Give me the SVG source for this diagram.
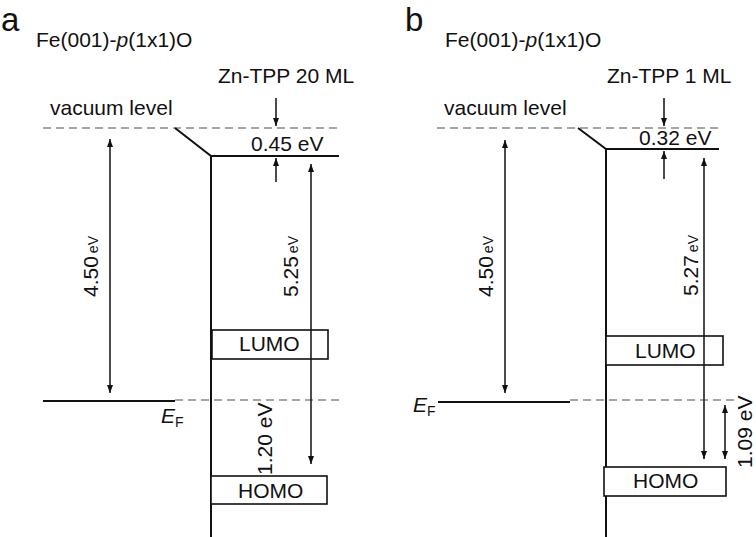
<svg xmlns="http://www.w3.org/2000/svg" width="756" height="537" viewBox="0 0 756 537">
<style>
text{font-family:"Liberation Sans",Arial,sans-serif;font-size:21px;fill:#111}
.big{font-size:33px}
.sm{font-size:14px}
.solid{stroke:#111;stroke-width:2;fill:none}
.dash{stroke:#888;stroke-width:1.5;stroke-dasharray:8 5;fill:none}
.arr{stroke:#111;stroke-width:1.5;fill:none;marker-end:url(#ah)}
.darr{stroke:#111;stroke-width:1.5;fill:none;marker-end:url(#ah);marker-start:url(#ah)}
.box{stroke:#111;stroke-width:1.6;fill:#fff}
</style>
<defs>
<marker id="ah" viewBox="0 0 8 6" refX="8" refY="3" markerWidth="8" markerHeight="6" markerUnits="userSpaceOnUse" orient="auto-start-reverse">
<path d="M0,0 L8,3 L0,6 z" fill="#111"/>
</marker>
</defs>
<rect width="756" height="537" fill="#fff"/>

<!-- Panel a -->
<g id="panel-a">
<text class="big" x="1" y="31">a</text>
<text x="36" y="47">Fe(001)-<tspan font-style="italic">p</tspan>(1x1)O</text>
<text x="218" y="83">Zn-TPP 20 ML</text>
<text x="50" y="115">vacuum level</text>
<g id="a-levels">
<line class="dash" x1="43" y1="128" x2="340" y2="128"/>
<polyline class="solid" points="175,128 211,156 339,156"/>
<line class="solid" x1="211" y1="156" x2="211" y2="537"/>
<line class="solid" x1="43" y1="401" x2="175" y2="401"/>
<line class="dash" x1="175" y1="400" x2="340" y2="400"/>
</g>
<text x="251" y="151">0.45 eV</text>
<text x="161" y="423"><tspan font-style="italic">E</tspan><tspan class="sm" dy="4">F</tspan></text>
<text transform="translate(98,297) rotate(-90)">4.50<tspan class="sm" dx="3">eV</tspan></text>
<text transform="translate(298,297) rotate(-90)">5.25<tspan class="sm" dx="3">eV</tspan></text>
</g>
<g id="a-lumo">
<rect class="box" x="212" y="330" width="116" height="29"/>
<text x="239" y="351">LUMO</text>
</g>
<g id="a-homo">
<rect class="box" x="211" y="476" width="116" height="28"/>
<text x="238" y="498">HOMO</text>
</g>
<text transform="translate(272,475) rotate(-90)">1.20 eV</text>

<!-- Panel b -->
<g id="panel-b">
<text class="big" x="405" y="31">b</text>
<text x="445" y="47">Fe(001)-<tspan font-style="italic">p</tspan>(1x1)O</text>
<text x="607" y="83">Zn-TPP 1 ML</text>
<text x="444" y="115">vacuum level</text>
<g id="b-levels">
<line class="dash" x1="437" y1="128" x2="720" y2="128"/>
<polyline class="solid" points="578,128 606,149 719,149"/>
<line class="solid" x1="606" y1="149" x2="606" y2="537"/>
<line class="solid" x1="438" y1="402" x2="570" y2="402"/>
<line class="dash" x1="570" y1="400" x2="738" y2="400"/>
</g>
<text x="639" y="145">0.32 eV</text>
<text x="413" y="412"><tspan font-style="italic">E</tspan><tspan class="sm" dy="4">F</tspan></text>
<text transform="translate(493,297) rotate(-90)">4.50<tspan class="sm" dx="3">eV</tspan></text>
<text transform="translate(698,296) rotate(-90)">5.27<tspan class="sm" dx="3">eV</tspan></text>
</g>
<g id="b-lumo">
<rect class="box" x="606" y="336" width="117" height="29"/>
<text x="635" y="358">LUMO</text>
</g>
<g id="b-homo">
<rect class="box" x="604" y="467" width="122" height="29"/>
<text x="633" y="488">HOMO</text>
</g>
<text transform="translate(752,468) rotate(-90)">1.09 eV</text>

<g id="connectors">
<line class="arr" x1="276" y1="98" x2="276" y2="126"/>
<line class="arr" x1="276" y1="182" x2="276" y2="158"/>
<line class="darr" x1="110" y1="139" x2="110" y2="393"/>
<line class="darr" x1="311" y1="164" x2="311" y2="464"/>
<line class="arr" x1="664" y1="98" x2="664" y2="126"/>
<line class="arr" x1="664" y1="179" x2="664" y2="151"/>
<line class="darr" x1="505" y1="140" x2="505" y2="393"/>
<line class="darr" x1="704" y1="158" x2="704" y2="459"/>
<line class="darr" x1="725" y1="405" x2="725" y2="459"/>
</g>
</svg>
